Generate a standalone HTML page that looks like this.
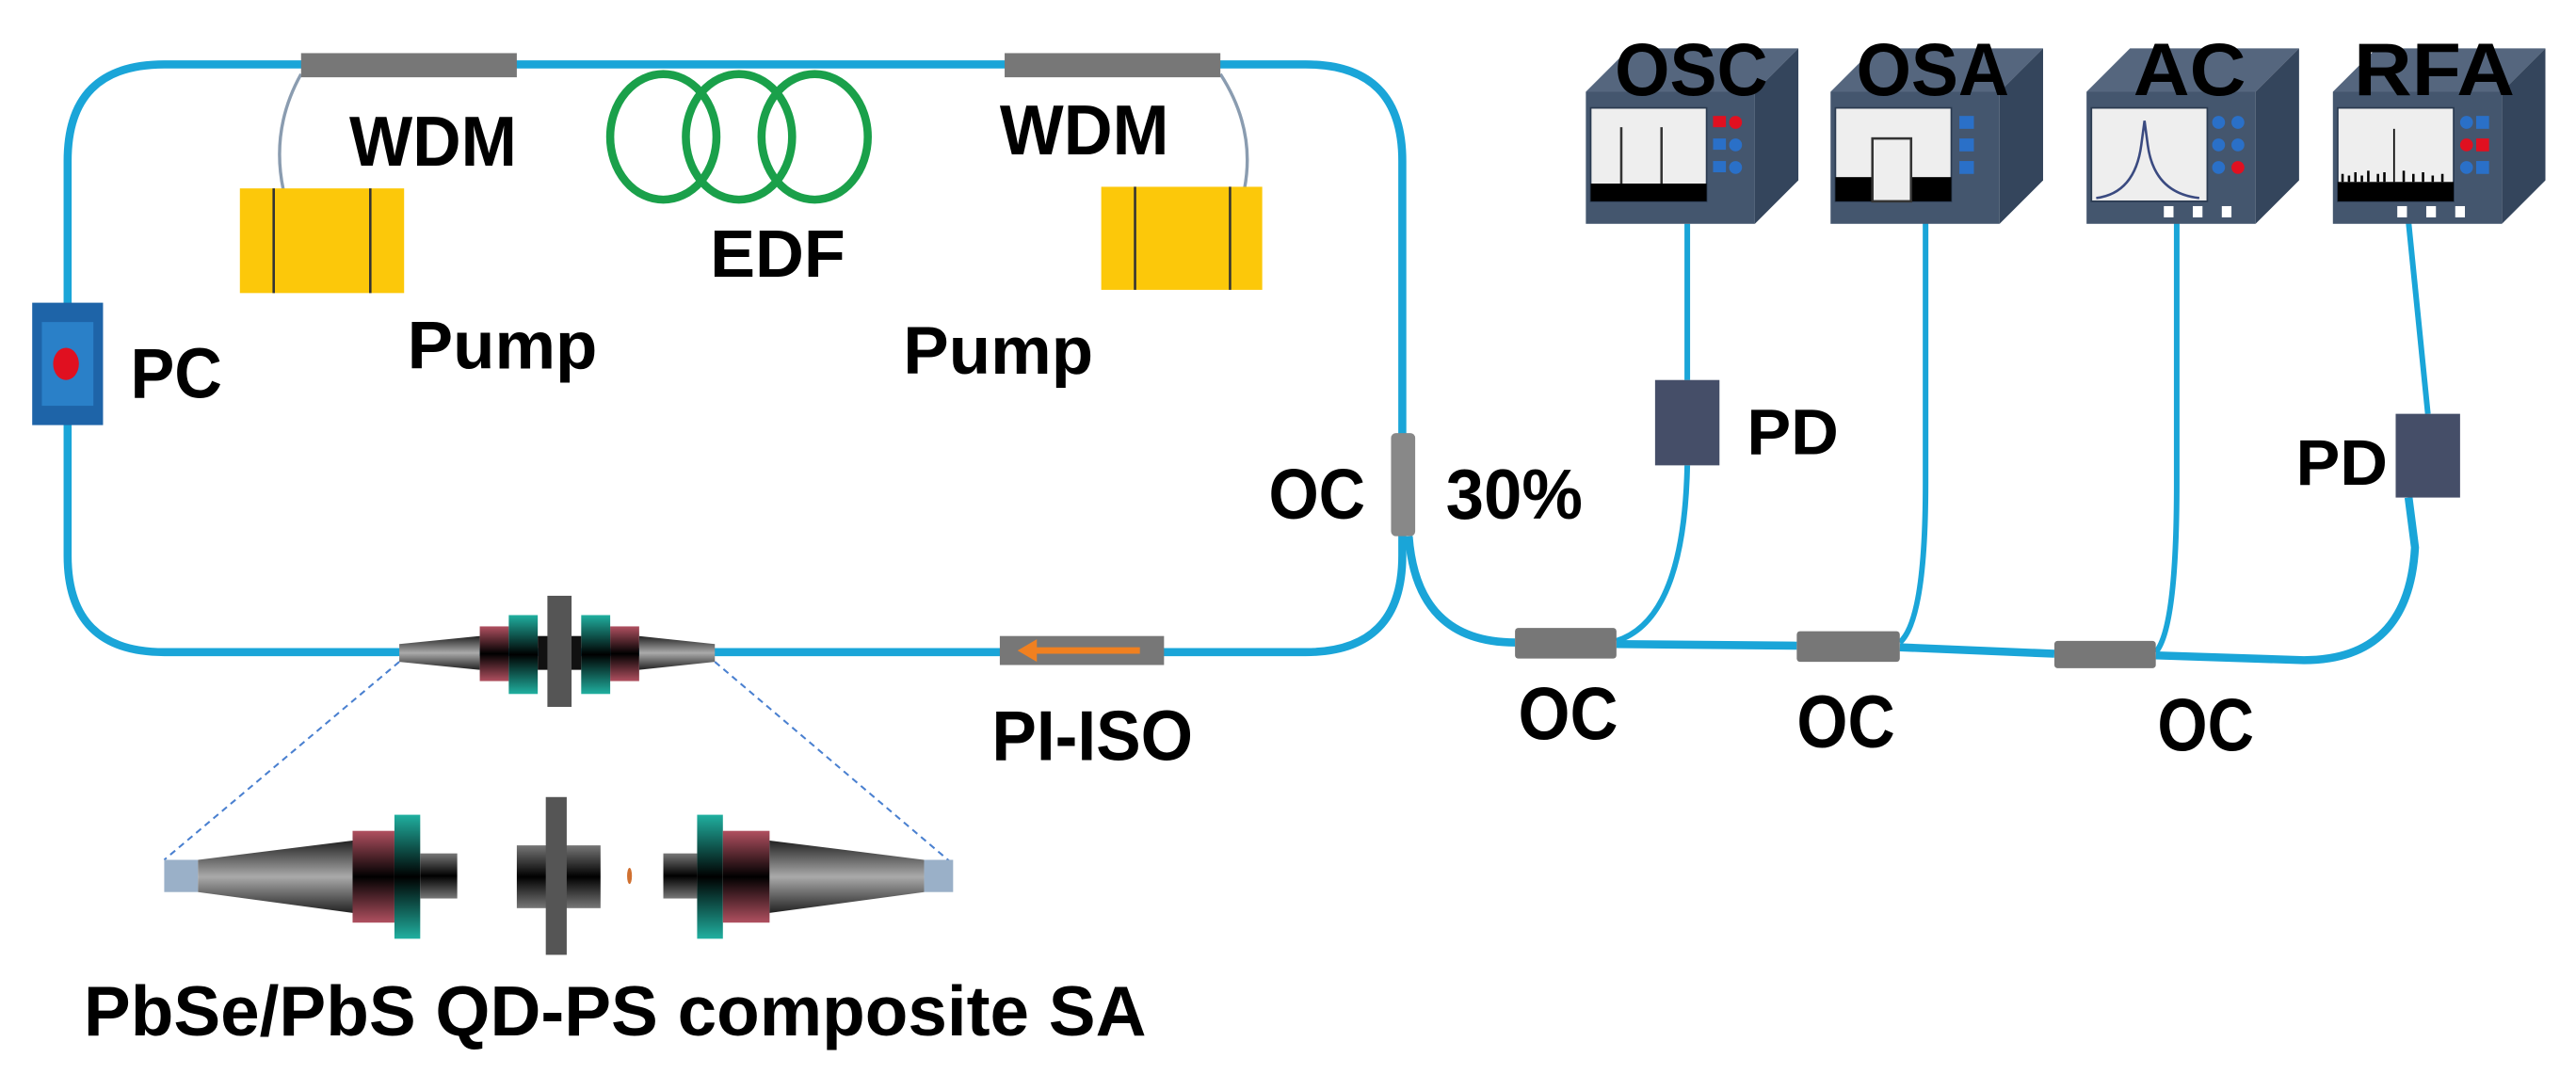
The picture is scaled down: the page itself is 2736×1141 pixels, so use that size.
<!DOCTYPE html>
<html><head><meta charset="utf-8"><style>
html,body{margin:0;padding:0;background:#fff;}
svg{display:block;}
text{font-family:"Liberation Sans",sans-serif;font-weight:bold;fill:#000;}
</style></head><body>
<svg width="2736" height="1141" viewBox="0 0 1600 667" preserveAspectRatio="none" xmlns="http://www.w3.org/2000/svg">
<defs>
<linearGradient id="cone" x1="0" y1="0" x2="0" y2="1"><stop offset="0" stop-color="#222"/><stop offset="0.5" stop-color="#aaa"/><stop offset="1" stop-color="#222"/></linearGradient>
<linearGradient id="red" x1="0" y1="0" x2="0" y2="1"><stop offset="0" stop-color="#b05060"/><stop offset="0.5" stop-color="#000"/><stop offset="1" stop-color="#b05060"/></linearGradient>
<linearGradient id="teal" x1="0" y1="0" x2="0" y2="1"><stop offset="0" stop-color="#20b0a0"/><stop offset="0.5" stop-color="#000"/><stop offset="1" stop-color="#20b0a0"/></linearGradient>
<linearGradient id="blk" x1="0" y1="0" x2="0" y2="1"><stop offset="0" stop-color="#777"/><stop offset="0.5" stop-color="#000"/><stop offset="1" stop-color="#777"/></linearGradient>
<g id="inst">
<polygon points="0,27 105,27 132,0 27,0" fill="#55667e"/>
<polygon points="105,27 132,0 132,82 105,109" fill="#34455c"/>
<rect x="0" y="27" width="105" height="82" fill="#44566e"/>
<rect x="3" y="37" width="72" height="58" fill="#eeeeee" stroke="#2a3a50" stroke-width="1"/>
</g>
</defs>

<!-- main loop -->
<path d="M42,100 Q42,40 102,40 L811,40 Q871,40 871,100 L871,345 Q871,405 811,405 L102,405 Q42,405 42,345 Z" fill="none" stroke="#1aa5d8" stroke-width="5"/>
<!-- pump leads -->
<path d="M187,46 Q168,80 176,118" fill="none" stroke="#8a9cb0" stroke-width="2"/>
<path d="M758,46 Q780,80 773,117" fill="none" stroke="#8a9cb0" stroke-width="2"/>
<!-- WDMs -->
<rect x="187" y="33" width="134" height="15" fill="#777"/>
<rect x="624" y="33" width="134" height="15" fill="#777"/>
<!-- pumps -->
<rect x="149" y="117" width="102" height="65" fill="#fcc80a"/>
<line x1="170" y1="117" x2="170" y2="182" stroke="#333" stroke-width="1.5"/>
<line x1="230" y1="117" x2="230" y2="182" stroke="#333" stroke-width="1.5"/>
<rect x="684" y="116" width="100" height="64" fill="#fcc80a"/>
<line x1="705" y1="116" x2="705" y2="180" stroke="#333" stroke-width="1.5"/>
<line x1="764" y1="116" x2="764" y2="180" stroke="#333" stroke-width="1.5"/>
<!-- EDF -->
<ellipse cx="412" cy="85" rx="33" ry="39" fill="none" stroke="#1aa04a" stroke-width="5"/>
<ellipse cx="459" cy="85" rx="33" ry="39" fill="none" stroke="#1aa04a" stroke-width="5"/>
<ellipse cx="506" cy="85" rx="33" ry="39" fill="none" stroke="#1aa04a" stroke-width="5"/>
<!-- PC -->
<rect x="20" y="188" width="44" height="76" fill="#1e64a8"/>
<rect x="26" y="200" width="32" height="52" fill="#2a80c8"/>
<ellipse cx="41" cy="226" rx="8" ry="10" fill="#e01020"/>
<!-- OC 30% -->
<rect x="864" y="269" width="15" height="64" fill="#888" rx="3"/>
<!-- PI-ISO -->
<rect x="621" y="395" width="102" height="18" fill="#777"/>
<path d="M708,404 L640,404" stroke="#f08020" stroke-width="4"/>
<polygon points="632,404 644,397 644,411" fill="#f08020"/>
<!-- SA on loop -->
<polygon points="248,400 298,395 298,416 248,411" fill="url(#cone)"/>
<polygon points="444,400 397,395 397,416 444,411" fill="url(#cone)"/>
<rect x="298" y="389" width="18" height="34" fill="url(#red)"/>
<rect x="379" y="389" width="18" height="34" fill="url(#red)"/>
<rect x="316" y="382" width="18" height="49" fill="url(#teal)"/>
<rect x="361" y="382" width="18" height="49" fill="url(#teal)"/>
<rect x="334" y="395" width="27" height="21" fill="#111"/>
<rect x="340" y="370" width="15" height="69" fill="#555"/>
<!-- dashed -->
<line x1="248" y1="411" x2="102" y2="534" stroke="#4a80d0" stroke-width="1.2" stroke-dasharray="4,3"/>
<line x1="444" y1="411" x2="590" y2="535" stroke="#4a80d0" stroke-width="1.2" stroke-dasharray="4,3"/>
<!-- zoomed SA -->
<rect x="102" y="534" width="21" height="20" fill="#9ab0c8"/>
<polygon points="123,534 219,522 219,567 123,554" fill="url(#cone)"/>
<rect x="219" y="516" width="26" height="57" fill="url(#red)"/>
<rect x="245" y="506" width="16" height="77" fill="url(#teal)"/>
<rect x="261" y="530" width="23" height="28" fill="url(#blk)"/>
<rect x="321" y="525" width="52" height="39" fill="url(#blk)"/>
<rect x="339" y="495" width="13" height="98" fill="#555"/>
<ellipse cx="391" cy="544" rx="1.5" ry="5" fill="#d07030"/>
<rect x="412" y="530" width="21" height="28" fill="url(#blk)"/>
<rect x="433" y="506" width="16" height="77" fill="url(#teal)"/>
<rect x="449" y="516" width="29" height="57" fill="url(#red)"/>
<polygon points="478,522 574,534 574,554 478,567" fill="url(#cone)"/>
<rect x="574" y="534" width="18" height="20" fill="#9ab0c8"/>

<!-- output fibers -->
<path d="M875,333 Q880,399 941,399" fill="none" stroke="#1aa5d8" stroke-width="5"/>
<path d="M1004,400 L1116,401 M1180,402 L1276,406 M1339,407 L1431,410 Q1496,410 1500,340 L1496,309" fill="none" stroke="#1aa5d8" stroke-width="5"/>
<path d="M1004,398 Q1046,385 1048,289 M1048,236 L1048,139" fill="none" stroke="#1aa5d8" stroke-width="3.5"/>
<path d="M1180,399 Q1196,385 1196,300 L1196,137" fill="none" stroke="#1aa5d8" stroke-width="3.5"/>
<path d="M1339,405 Q1352,390 1352,300 L1352,138" fill="none" stroke="#1aa5d8" stroke-width="3.5"/>
<path d="M1508,257 L1496,138" fill="none" stroke="#1aa5d8" stroke-width="3.5"/>
<rect x="941" y="390" width="63" height="19" fill="#777" rx="2"/>
<rect x="1116" y="392" width="64" height="19" fill="#777" rx="2"/>
<rect x="1276" y="398" width="63" height="17" fill="#777" rx="2"/>
<!-- PDs -->
<rect x="1028" y="236" width="40" height="53" fill="#454e68"/>
<rect x="1488" y="257" width="40" height="52" fill="#454e68"/>

<!-- instruments -->
<g transform="translate(985,30)"><use href="#inst"/>
<rect x="3" y="84" width="72" height="11" fill="#000"/>
<line x1="22" y1="49" x2="22" y2="84" stroke="#333" stroke-width="1.5"/><line x1="47" y1="49" x2="47" y2="84" stroke="#333" stroke-width="1.5"/>
<rect x="79" y="42" width="8" height="7" fill="#e01020"/><circle cx="93" cy="46" r="4" fill="#e01020"/>
<rect x="79" y="56" width="8" height="7" fill="#2a70c8"/><circle cx="93" cy="60" r="4" fill="#2a70c8"/>
<rect x="79" y="70" width="8" height="7" fill="#2a70c8"/><circle cx="93" cy="74" r="4" fill="#2a70c8"/>
</g>
<g transform="translate(1137,30)"><use href="#inst"/>
<rect x="3" y="80" width="72" height="15" fill="#000"/>
<rect x="26" y="56" width="24" height="39" fill="#eee" stroke="#333" stroke-width="1.5"/>
<rect x="80" y="42" width="9" height="8" fill="#2a70c8"/><rect x="80" y="56" width="9" height="8" fill="#2a70c8"/><rect x="80" y="70" width="9" height="8" fill="#2a70c8"/>
</g>
<g transform="translate(1296,30)"><use href="#inst"/>
<path d="M6,93 Q30,90 34,60 L36,45 L38,60 Q42,90 70,93" fill="none" stroke="#3a4a80" stroke-width="1.5"/>
<circle cx="82" cy="46" r="4" fill="#2a70c8"/><circle cx="94" cy="46" r="4" fill="#2a70c8"/>
<circle cx="82" cy="60" r="4" fill="#2a70c8"/><circle cx="94" cy="60" r="4" fill="#2a70c8"/>
<circle cx="82" cy="74" r="4" fill="#2a70c8"/><circle cx="94" cy="74" r="4" fill="#e01020"/>
<rect x="48" y="98" width="6" height="7" fill="#fff"/><rect x="66" y="98" width="6" height="7" fill="#fff"/><rect x="84" y="98" width="6" height="7" fill="#fff"/>
</g>
<g transform="translate(1449,30)"><use href="#inst"/>
<rect x="3" y="83" width="72" height="12" fill="#000"/>
<path d="M6,83 L6,78 M10,83 L10,79 M14,83 L14,77 M18,83 L18,79 M22,83 L22,76 M28,83 L28,78 M32,83 L32,77 M44,83 L44,76 M50,83 L50,78 M56,83 L56,77 M62,83 L62,79 M68,83 L68,78" stroke="#000" stroke-width="1.5"/>
<line x1="38" y1="50" x2="38" y2="83" stroke="#000" stroke-width="1"/>
<circle cx="83" cy="46" r="4" fill="#2a70c8"/><rect x="89" y="42" width="8" height="8" fill="#2a70c8"/>
<circle cx="83" cy="60" r="4" fill="#e01020"/><rect x="89" y="56" width="8" height="8" fill="#e01020"/>
<circle cx="83" cy="74" r="4" fill="#2a70c8"/><rect x="89" y="70" width="8" height="8" fill="#2a70c8"/>
<rect x="40" y="98" width="6" height="7" fill="#fff"/><rect x="58" y="98" width="6" height="7" fill="#fff"/><rect x="76" y="98" width="6" height="7" fill="#fff"/>
</g>

<!-- labels -->
<text x="217" y="103" font-size="44" textLength="104" lengthAdjust="spacingAndGlyphs">WDM</text>
<text x="621" y="96" font-size="44" textLength="105" lengthAdjust="spacingAndGlyphs">WDM</text>
<text x="441" y="172" font-size="42" textLength="84" lengthAdjust="spacingAndGlyphs">EDF</text>
<text x="253" y="229" font-size="42" textLength="118" lengthAdjust="spacingAndGlyphs">Pump</text>
<text x="561" y="232" font-size="42" textLength="118" lengthAdjust="spacingAndGlyphs">Pump</text>
<text x="81" y="247" font-size="44" textLength="57" lengthAdjust="spacingAndGlyphs">PC</text>
<text x="788" y="322" font-size="44" textLength="60" lengthAdjust="spacingAndGlyphs">OC</text>
<text x="898" y="322" font-size="44" textLength="85" lengthAdjust="spacingAndGlyphs">30%</text>
<text x="616" y="472" font-size="44" textLength="125" lengthAdjust="spacingAndGlyphs">PI-ISO</text>
<text x="52" y="643" font-size="44" textLength="660" lengthAdjust="spacingAndGlyphs">PbSe/PbS QD-PS composite SA</text>
<text x="943" y="459" font-size="46" textLength="62" lengthAdjust="spacingAndGlyphs">OC</text>
<text x="1116" y="464" font-size="46" textLength="61" lengthAdjust="spacingAndGlyphs">OC</text>
<text x="1340" y="466" font-size="46" textLength="60" lengthAdjust="spacingAndGlyphs">OC</text>
<text x="1085" y="282" font-size="40" textLength="57" lengthAdjust="spacingAndGlyphs">PD</text>
<text x="1426" y="301" font-size="40" textLength="57" lengthAdjust="spacingAndGlyphs">PD</text>
<text x="1003" y="59" font-size="46" textLength="95" lengthAdjust="spacingAndGlyphs">OSC</text>
<text x="1153" y="59" font-size="46" textLength="95" lengthAdjust="spacingAndGlyphs">OSA</text>
<text x="1325" y="59" font-size="46" textLength="70" lengthAdjust="spacingAndGlyphs">AC</text>
<text x="1462" y="59" font-size="46" textLength="100" lengthAdjust="spacingAndGlyphs">RFA</text>
</svg>
</body></html>
